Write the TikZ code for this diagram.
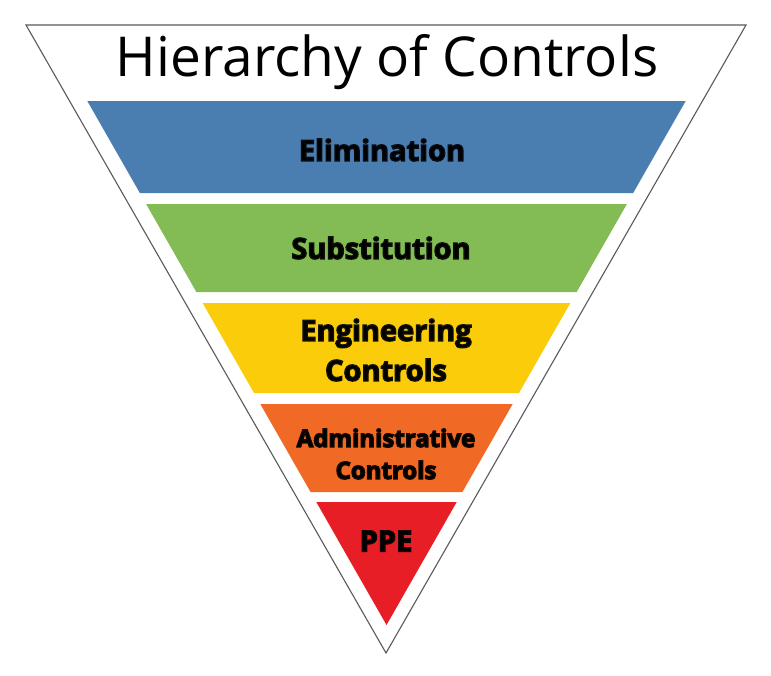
\documentclass[tikz,border=0pt]{standalone}
\usepackage{fontspec}
\setmainfont{Open Sans}
\usetikzlibrary{calc}
\definecolor{bandblue}{RGB}{74,126,177}
\definecolor{bandgreen}{RGB}{131,188,84}
\definecolor{bandyellow}{RGB}{250,204,10}
\definecolor{bandorange}{RGB}{240,106,38}
\definecolor{bandred}{RGB}{232,30,38}
\definecolor{edgegray}{RGB}{90,90,90}
\newcommand\bandpath[3]{%
  \pgfmathsetmacro\ha{0.571*(625-#1)}%
  \pgfmathsetmacro\hb{0.571*(625-#2)}%
  \fill[#3] ({386.5-\ha},#1) -- ({386.5+\ha},#1) -- ({386.5+\hb},#2) -- ({386.5-\hb},#2) -- cycle;}
% heavier letters with a dark edge, as raw PDF operators
\newcommand\glowtext[2]{\special{pdf:literal direct 2 Tr 1.3 w #1 RG}#2\special{pdf:literal direct 0 Tr}}
\tikzset{
  lbl/.style={align=center,text=black,inner sep=0pt,font=\bfseries\fontsize{29}{40}\selectfont},
  smalllbl/.style={lbl,font=\bfseries\fontsize{24}{32}\selectfont}
}
\begin{document}
\begin{tikzpicture}[x=1pt,y=-1pt]
\useasboundingbox (0,0) rectangle (771,675);
\fill[white] (0,0) rectangle (771,675);
\draw[line width=1.1pt,draw=edgegray] (26,25) -- (746,25) -- (386,653) -- cycle;
\node[inner sep=0pt,font=\fontsize{55}{60}\selectfont] (title) at (387,62) {Hierarchy of Controls};
\bandpath{101}{193}{bandblue}
\bandpath{204}{292}{bandgreen}
\bandpath{303}{393}{bandyellow}
\bandpath{404}{492}{bandorange}
\pgfmathsetmacro\hr{0.571*(625-502)}
\fill[bandred] ({386.5-\hr},502) -- ({386.5+\hr},502) -- (386.5,625) -- cycle;
\node[lbl] (elim) at (382,150) {\glowtext{0.03 0.05 0.08}{Elimination}};
\node[lbl] (subst) at (381,248) {\glowtext{0.05 0.07 0.03}{Substitution}};
\node[lbl] (eng) at (386,350) {\glowtext{0.08 0.07 0.01}{Engineering}\\\glowtext{0.08 0.07 0.01}{Controls}};
\node[smalllbl] (admin) at (386,454) {\glowtext{0.08 0.04 0.01}{Administrative}\\\glowtext{0.08 0.04 0.01}{Controls}};
\node[lbl] (ppe) at (386,541) {\glowtext{0.08 0.01 0.01}{PPE}};
\end{tikzpicture}
\end{document}
